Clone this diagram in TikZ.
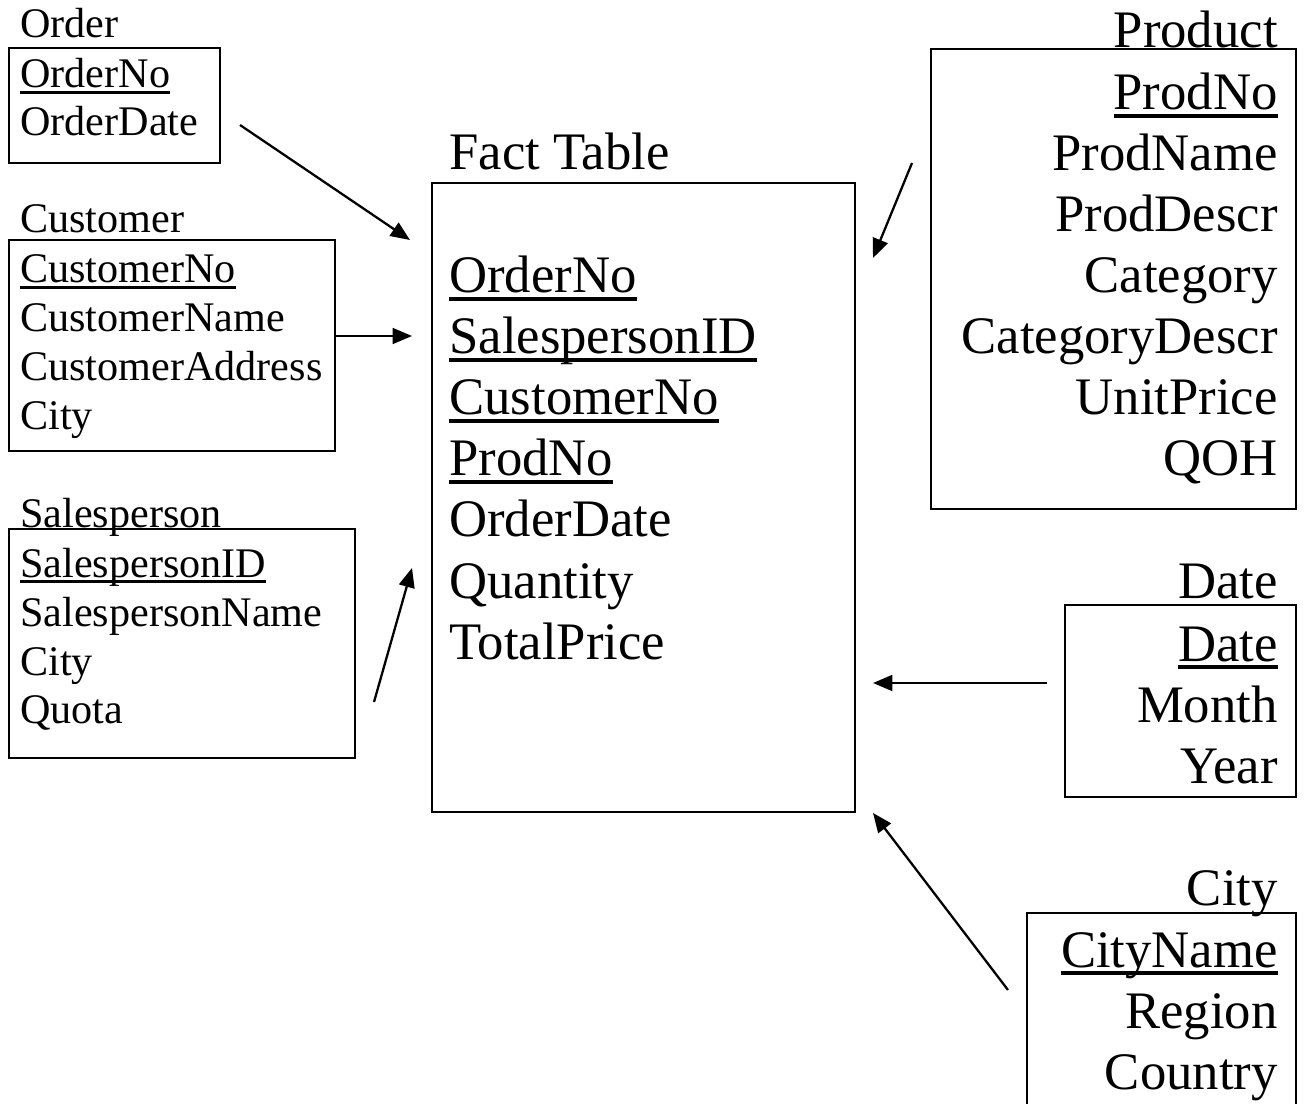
\documentclass[tikz,border=0pt]{standalone}
\usepackage{fontspec}
\setmainfont{Liberation Serif}
\usetikzlibrary{positioning,arrows.meta,fit}
\newcommand{\keyline}[1]{\setbox0\hbox{#1}\rlap{\rule[-0.15em]{\wd0}{0.07em}}\box0}
\tikzset{
  tbl/.style={draw, line width=1.2pt, inner sep=0pt},
  small/.style={font=\fontsize{24}{28}\selectfont, inner sep=0pt},
  big/.style={font=\fontsize{30}{36}\selectfont, inner sep=0pt},
  link/.style={-{Triangle[length=11pt,width=9pt]}, line width=1.3pt},
}

\begin{document}
\begin{tikzpicture}[x=0.02cm, y=-0.02cm]
  \useasboundingbox (0,0) rectangle (1308,1104);

  % dimension tables, left
  \node[small, anchor=base west] (ordT) at (20,38) {Order};
  \node[tbl, fit={(9,48) (220,163)}] (ord) {};
  \node[small, anchor=base west] (ord1) at (20,88) {\keyline{OrderNo}};
  \node[small, anchor=base west] (ord2) at (20,136) {OrderDate};

  \node[small, anchor=base west] (cusT) at (20,233) {Customer};
  \node[tbl, fit={(9,240) (335,451)}] (cus) {};
  \node[small, anchor=base west] (cus1) at (20,283) {\keyline{CustomerNo}};
  \node[small, anchor=base west] (cus2) at (20,332) {CustomerName};
  \node[small, anchor=base west] (cus3) at (20,381) {CustomerAddress};
  \node[small, anchor=base west] (cus4) at (20,430) {City};

  \node[small, anchor=base west] (salT) at (20,527) {Salesperson};
  \node[tbl, fit={(9,529) (355,758)}] (sal) {};
  \node[small, anchor=base west] (sal1) at (20,577) {\keyline{SalespersonID}};
  \node[small, anchor=base west] (sal2) at (20,626) {SalespersonName};
  \node[small, anchor=base west] (sal3) at (20,675) {City};
  \node[small, anchor=base west] (sal4) at (20,723) {Quota};

  % fact table
  \node[big, anchor=base west] (factT) at (449,170) {Fact Table};
  \node[tbl, fit={(432,183) (855,812)}] (fact) {};
  \node[big, anchor=base west] (fact1) at (449,293) {\keyline{OrderNo}};
  \node[big, anchor=base west] (fact2) at (449,354) {\keyline{SalespersonID}};
  \node[big, anchor=base west] (fact3) at (449,415) {\keyline{CustomerNo}};
  \node[big, anchor=base west] (fact4) at (449,476) {\keyline{ProdNo}};
  \node[big, anchor=base west] (fact5) at (449,537) {OrderDate};
  \node[big, anchor=base west] (fact6) at (449,598) {Quantity};
  \node[big, anchor=base west] (fact7) at (449,659) {TotalPrice};

  % dimension tables, right
  \node[big, anchor=base east] (proT) at (1278,48) {Product};
  \node[tbl, fit={(931,49) (1296,509)}] (pro) {};
  \node[big, anchor=base east] (pro1) at (1278,110) {\keyline{ProdNo}};
  \node[big, anchor=base east] (pro2) at (1278,171) {ProdName};
  \node[big, anchor=base east] (pro3) at (1278,232) {ProdDescr};
  \node[big, anchor=base east] (pro4) at (1278,293) {Category};
  \node[big, anchor=base east] (pro5) at (1278,354) {CategoryDescr};
  \node[big, anchor=base east] (pro6) at (1278,415) {UnitPrice};
  \node[big, anchor=base east] (pro7) at (1278,476) {QOH};

  \node[big, anchor=base east] (datT) at (1278,598) {Date};
  \node[tbl, fit={(1065,605) (1296,797)}] (dat) {};
  \node[big, anchor=base east] (dat1) at (1278,661) {\keyline{Date}};
  \node[big, anchor=base east] (dat2) at (1278,722) {Month};
  \node[big, anchor=base east] (dat3) at (1278,783) {Year};

  \node[big, anchor=base east] (citT) at (1278,905) {City};
  \node[tbl, fit={(1027,913) (1296,1112)}] (cit) {};
  \node[big, anchor=base east] (cit1) at (1278,967) {\keyline{CityName}};
  \node[big, anchor=base east] (cit2) at (1278,1028) {Region};
  \node[big, anchor=base east] (cit3) at (1278,1089) {Country};

  % arrow ends
  \coordinate (ordA) at (240,125);  \coordinate (ordB) at (410,240);
  \coordinate (cusA) at (335,336);  \coordinate (cusB) at (412,336);
  \coordinate (salA) at (374,702);  \coordinate (salB) at (412,568);
  \coordinate (proA) at (912,163);  \coordinate (proB) at (873,258);
  \coordinate (datA) at (1047,683); \coordinate (datB) at (873,683);
  \coordinate (citA) at (1008,990); \coordinate (citB) at (873,813);

  \draw[link] (ordA) -- (ordB);
  \draw[link] (cusA) -- (cusB);
  \draw[link] (salA) -- (salB);
  \draw[link] (proA) -- (proB);
  \draw[link] (datA) -- (datB);
  \draw[link] (citA) -- (citB);

\end{tikzpicture}
\end{document}
